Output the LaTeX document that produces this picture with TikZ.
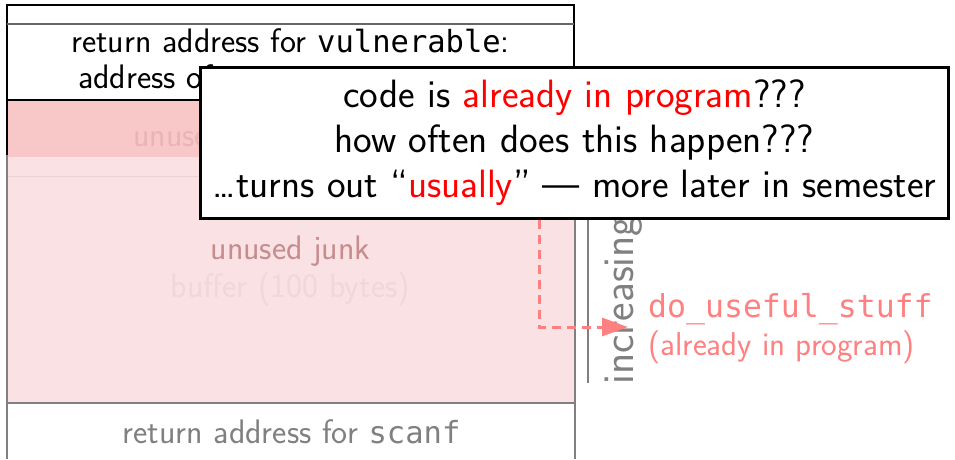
\documentclass[tikz,border=0pt]{standalone}
\usepackage{fontspec}
\newfontfamily\dmono{DejaVu Sans Mono}
\renewcommand{\familydefault}{\sfdefault}
\usetikzlibrary{arrows.meta}
\definecolor{pinkA}{RGB}{248,200,201}
\definecolor{pinkB}{RGB}{250,226,228}
\definecolor{pinkLine}{RGB}{236,208,210}
\definecolor{junkc}{RGB}{198,140,142}
\definecolor{faintA}{RGB}{234,180,182}
\definecolor{faintB}{RGB}{240,215,217}
\definecolor{salmon}{RGB}{255,128,128}
\definecolor{hl}{RGB}{255,0,0}
\definecolor{midgray}{RGB}{128,128,128}
\newcommand{\stkmono}[1]{{\fontsize{30.5}{36}\selectfont\dmono #1}}
\tikzset{
  stk/.style={inner sep=0pt, font=\fontsize{34}{36}\selectfont},
  callbox/.style={draw=black, line width=3pt, fill=white, inner sep=0pt,
    minimum width=748pt, minimum height=151pt, align=center,
    font=\fontsize{39.5}{45}\selectfont},
  lbl/.style={inner sep=0pt, text=salmon, font=\fontsize{33}{36}\selectfont},
  arr/.style={draw=salmon, line width=3pt, dash pattern=on 9pt off 6pt,
    -{Triangle[length=26pt,width=18pt]}, shorten >=20pt},
}
\begin{document}
\begin{tikzpicture}[x=1pt,y=-1pt]
\useasboundingbox (0,0) rectangle (955,459);
% stack body
\fill[pinkA] (7,100) rectangle (574,157);
\fill[pinkB] (7,157) rectangle (574,403);
\draw[pinkLine, line width=1pt] (7,176) -- (574,176);
\fill[white] (7,5) rectangle (574,100);
\draw[midgray, line width=2pt] (7,155) -- (7,459);
\draw[midgray, line width=2pt] (575,155) -- (575,459);
\draw[midgray, line width=2pt] (7,403) -- (575,403);
\draw[black, line width=2pt] (7,155) -- (7,5) -- (574,5) -- (574,155);
\draw[black, line width=2pt] (7,100) -- (574,100);
\draw[black!60, line width=1.5pt] (7,24) -- (574,24);
% stack texts
\node[stk, anchor=base] (rav) at (290.5,52) {return address for \stkmono{vulnerable}:};
\node[stk, anchor=base west] (ado) at (78,88) {address of};
\node[stk, text=faintA, anchor=base west] (unu) at (133,146) {unused};
\node[stk, text=junkc, anchor=base] (junk) at (290.5,259) {unused junk};
\node[stk, text=faintB, anchor=base] (buf) at (290.5,297) {buffer (100 bytes)};
\node[stk, text=midgray, anchor=base] (ras) at (291.5,443) {return address for \stkmono{scanf}};
% address axis
\coordinate (axb) at (588,383);
\coordinate (axt) at (588,219);
\draw[midgray, line width=1.5pt] (axb) -- (axt);
\node[inner sep=0pt, font=\fontsize{44}{46}\selectfont, text=midgray, rotate=90, anchor=base west] (inc) at (633,385) {increasing};
% target label
\node[lbl, anchor=base west] (dus) at (648,317) {{\fontsize{31.5}{36}\selectfont\dmono do\_useful\_stuff}};
\node[lbl, anchor=base west] (aip) at (648,355) {(already in program)};
% callout
\node[callbox] (co) at (574.5,143) {code is \textcolor{hl}{already in program}???\\how often does this happen???\\…turns out “\textcolor{hl}{usually}” — more later in semester};
% arrow
\coordinate (bend) at (539,327);
\draw[arr] (co.south -| bend) -- (bend) -- (dus.west |- bend);
\end{tikzpicture}
\end{document}
